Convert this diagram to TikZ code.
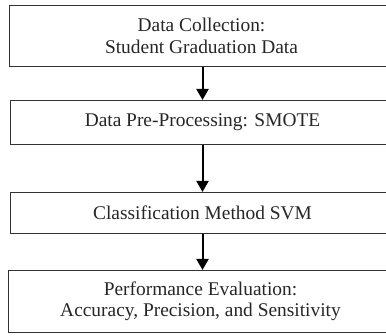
\documentclass[tikz,border=0pt]{standalone}
\usepackage{fontspec}
\setmainfont{Liberation Serif}
\usetikzlibrary{arrows.meta}
\begin{document}
\begin{tikzpicture}[x=1pt,y=1pt,
  stage/.style={draw=black!80,line width=1pt,minimum width=384pt,anchor=north west,align=center,inner sep=0pt,font=\fontsize{19.4}{21.5}\selectfont,text=black!85},
  flow/.style={line width=2pt,-{Triangle[length=11pt,width=12pt]}}]
\useasboundingbox (0,0) rectangle (386,336);
\clip (0,0) rectangle (386,336);
\node[stage,minimum height=61pt] (a) at (9,331) {Data Collection:\\Student Graduation Data};
\node[stage,minimum height=44pt] (b) at (10,236) {Data Pre-Processing: SMOTE};
\node[stage,minimum height=41pt] (c) at (10,144) {Classification Method SVM};
\node[stage,minimum height=62pt] (d) at (8,66) {Performance Evaluation:\\Accuracy, Precision, and Sensitivity};
\coordinate (ax) at (202.5,0);
\draw[flow] (a.south -| ax) -- (b.north -| ax);
\draw[flow] (b.south -| ax) -- (c.north -| ax);
\draw[flow] (c.south -| ax) -- (d.north -| ax);
\end{tikzpicture}
\end{document}
